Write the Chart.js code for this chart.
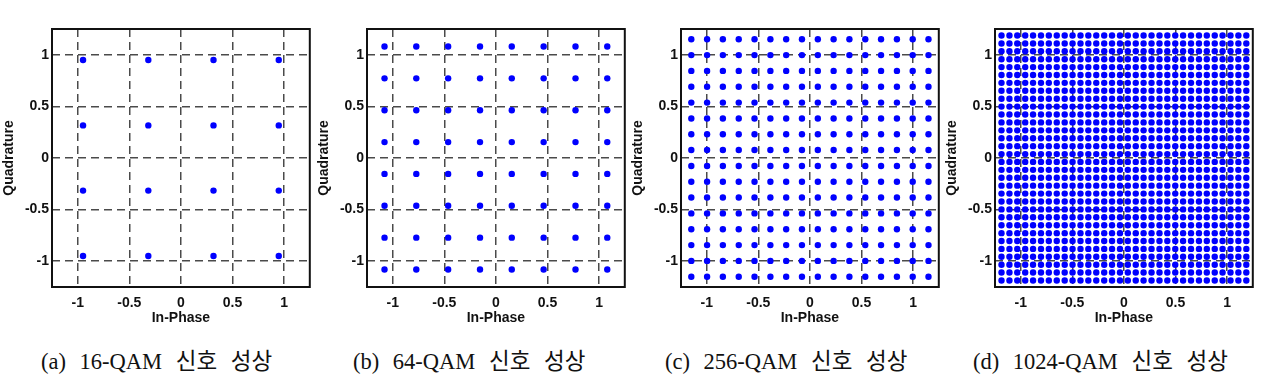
<!DOCTYPE html>
<html>
<head>
<meta charset="utf-8">
<script src="https://cdn.jsdelivr.net/npm/chart.js@4"></script>
<style>
  body { margin: 0; background: #fff; }
  #wrap { position: relative; width: 1266px; height: 384px; overflow: hidden; }
  .panel { position: absolute; top: 0; width: 313px; height: 330px; }
  .caption {
    position: absolute; top: 351px; white-space: pre; line-height: 22px;
    font-family: "Liberation Serif", "Noto Sans CJK KR", serif;
    font-size: 22.5px; color: #111; word-spacing: 8px;
  }
</style>
</head>
<body>
<div id="wrap">
  <div class="panel" style="left:0px"><canvas id="c0"></canvas></div>
  <div class="panel" style="left:315px"><canvas id="c1"></canvas></div>
  <div class="panel" style="left:629px"><canvas id="c2"></canvas></div>
  <div class="panel" style="left:943px"><canvas id="c3"></canvas></div>
  <div class="caption" style="left:41px">(a) 16-QAM 신호 성상</div>
  <div class="caption" style="left:353px">(b) 64-QAM 신호 성상</div>
  <div class="caption" style="left:665px">(c) 256-QAM 신호 성상</div>
  <div class="caption" style="left:973px">(d) 1024-QAM 신호 성상</div>
</div>
<script>
// constellation levels (same levels on I and Q)
const levels16 = [-0.949, -0.316, 0.316, 0.949];
const levels64 = [-1.080, -0.772, -0.463, -0.154, 0.154, 0.463, 0.772, 1.080];
const levels256 = [-1.150, -0.997, -0.844, -0.690, -0.537, -0.383, -0.230, -0.077,
                   0.077, 0.230, 0.383, 0.537, 0.690, 0.844, 0.997, 1.150];
const levels1024 = [-1.187, -1.110, -1.034, -0.957, -0.881, -0.804, -0.728, -0.651,
                    -0.574, -0.498, -0.421, -0.345, -0.268, -0.191, -0.115, -0.038,
                    0.038, 0.115, 0.191, 0.268, 0.345, 0.421, 0.498, 0.574,
                    0.651, 0.728, 0.804, 0.881, 0.957, 1.034, 1.110, 1.187];
const tickValues = [-1, -0.5, 0, 0.5, 1];
const axisMin = -1.25;
const axisMax = 1.25;
const xTitle = 'In-Phase';
const yTitle = 'Quadrature';

document.addEventListener('DOMContentLoaded', function () {
    const tickFont = { family: '"Liberation Sans", Arial, sans-serif', size: 14, weight: 'bold' };

    // black box round the plot area
    const framePlugin = {
        id: 'frame',
        afterDraw(chart) {
            const a = chart.chartArea;
            const ctx = chart.ctx;
            ctx.save();
            ctx.strokeStyle = '#111';
            ctx.lineWidth = 2;
            ctx.strokeRect(a.left, a.top, a.right - a.left, a.bottom - a.top);
            ctx.restore();
        }
    };

    function gridPoints(levels) {
        const pts = [];
        levels.forEach(function (i) {
            levels.forEach(function (q) {
                pts.push({ x: i, y: q });
            });
        });
        return pts;
    }

    function axis(title, isX) {
        return {
            type: 'linear',
            min: axisMin,
            max: axisMax,
            afterBuildTicks: function (scale) {
                scale.ticks = tickValues.map(function (v) { return { value: v }; });
            },
            afterFit: function (scale) {
                if (isX) scale.height = 43;
                else scale.width = 52;
            },
            grid: {
                color: '#4a4a4a',
                lineWidth: 1.5,
                drawTicks: false
            },
            border: { display: false, dash: [8, 5] },
            ticks: {
                color: '#111',
                font: tickFont,
                padding: isX ? 8 : 3,
                autoSkip: false,
                maxRotation: 0,
                callback: function (v) { return String(v); }
            },
            title: {
                display: true,
                text: title,
                color: '#111',
                font: tickFont,
                padding: isX ? { top: 0, bottom: 3 } : { top: 1, bottom: 0 }
            }
        };
    }

    function createChart(id, levels) {
        const ctx = document.getElementById(id).getContext('2d');
        new Chart(ctx, {
            type: 'scatter',
            data: {
                datasets: [{
                    data: gridPoints(levels),
                    backgroundColor: '#0000ff',
                    borderWidth: 0,
                    pointRadius: 3.2,
                    pointHoverRadius: 3.2
                }]
            },
            options: {
                responsive: true,
                maintainAspectRatio: false,
                animation: false,
                layout: { padding: { top: 29, right: 3, left: 0, bottom: 0 } },
                plugins: { legend: { display: false }, tooltip: { enabled: false } },
                scales: {
                    x: axis(xTitle, true),
                    y: axis(yTitle, false)
                }
            },
            plugins: [framePlugin]
        });
    }

    createChart('c0', levels16);
    createChart('c1', levels64);
    createChart('c2', levels256);
    createChart('c3', levels1024);
});
</script>
</body>
</html>
